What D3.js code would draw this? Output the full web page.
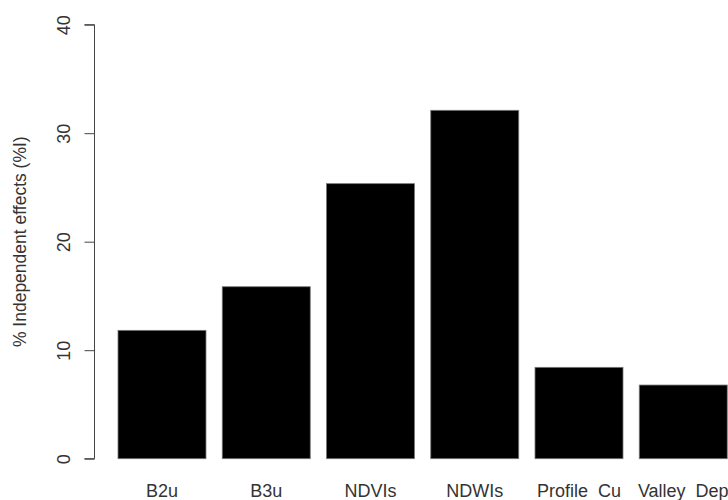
<!DOCTYPE html>
<html>
<head>
<meta charset="utf-8">
<script src="https://cdn.jsdelivr.net/npm/d3@7"></script>
<style>
  html, body { margin: 0; padding: 0; background: #fff; }
  svg { display: block; }
  text { font-family: "Liberation Sans", Arial, sans-serif; fill: #333; }
</style>
</head>
<body>
<div id="chart"></div>
<script>
const categories = ["B2u", "B3u", "NDVIs", "NDWIs", "Profile  Cu", "Valley  Dep"];
const values = [11.83, 15.85, 25.35, 32.11, 8.42, 6.79];
const yTicks = [0, 10, 20, 30, 40];
const yTitle = "% Independent effects (%I)";

const W = 728, H = 500;
const svg = d3.select("#chart").append("svg").attr("width", W).attr("height", H);

const x = d3.scaleBand().domain(categories).range([118, 727.25])
  .paddingInner(0.156).paddingOuter(0);
const y = d3.scaleLinear().domain([0, 40]).range([458.7, 24.7]);

// bars
svg.append("g").selectAll("rect").data(values).join("rect")
  .attr("x", (d, i) => x(categories[i]))
  .attr("y", d => y(d))
  .attr("width", x.bandwidth())
  .attr("height", d => y(0) - y(d))
  .attr("fill", "#000")
  .attr("stroke", "#777")
  .attr("stroke-width", 0.8);

// y axis
const axisX = 94.5;
const gy = svg.append("g").attr("transform", `translate(${axisX},0)`)
  .call(d3.axisLeft(y).tickValues(yTicks).tickSize(10).tickPadding(0).tickFormat(d3.format("d")));
gy.select(".domain").attr("stroke", "#444").attr("d", `M-10,${y(0)}H0V${y(40)}H-10`);
gy.selectAll(".tick line").attr("stroke", "#444");
gy.selectAll(".tick text")
  .attr("font-size", 18)
  .attr("text-anchor", "middle")
  .attr("x", 0).attr("y", 0).attr("dy", null)
  .attr("transform", "translate(-25,0) rotate(-90)")
  .style("fill", "#333");
gy.attr("font-family", null);

// x labels
svg.append("g").selectAll("text").data(categories).join("text")
  .attr("x", d => x(d) + x.bandwidth() / 2)
  .attr("y", 497)
  .attr("text-anchor", "middle")
  .attr("font-size", 18)
  .attr("xml:space", "preserve")
  .style("white-space", "pre")
  .text(d => d);

// y title
svg.append("text")
  .attr("transform", `translate(26,${(y(0) + y(40)) / 2}) rotate(-90)`)
  .attr("text-anchor", "middle")
  .attr("font-size", 17.5)
  .text(yTitle);
</script>
</body>
</html>
